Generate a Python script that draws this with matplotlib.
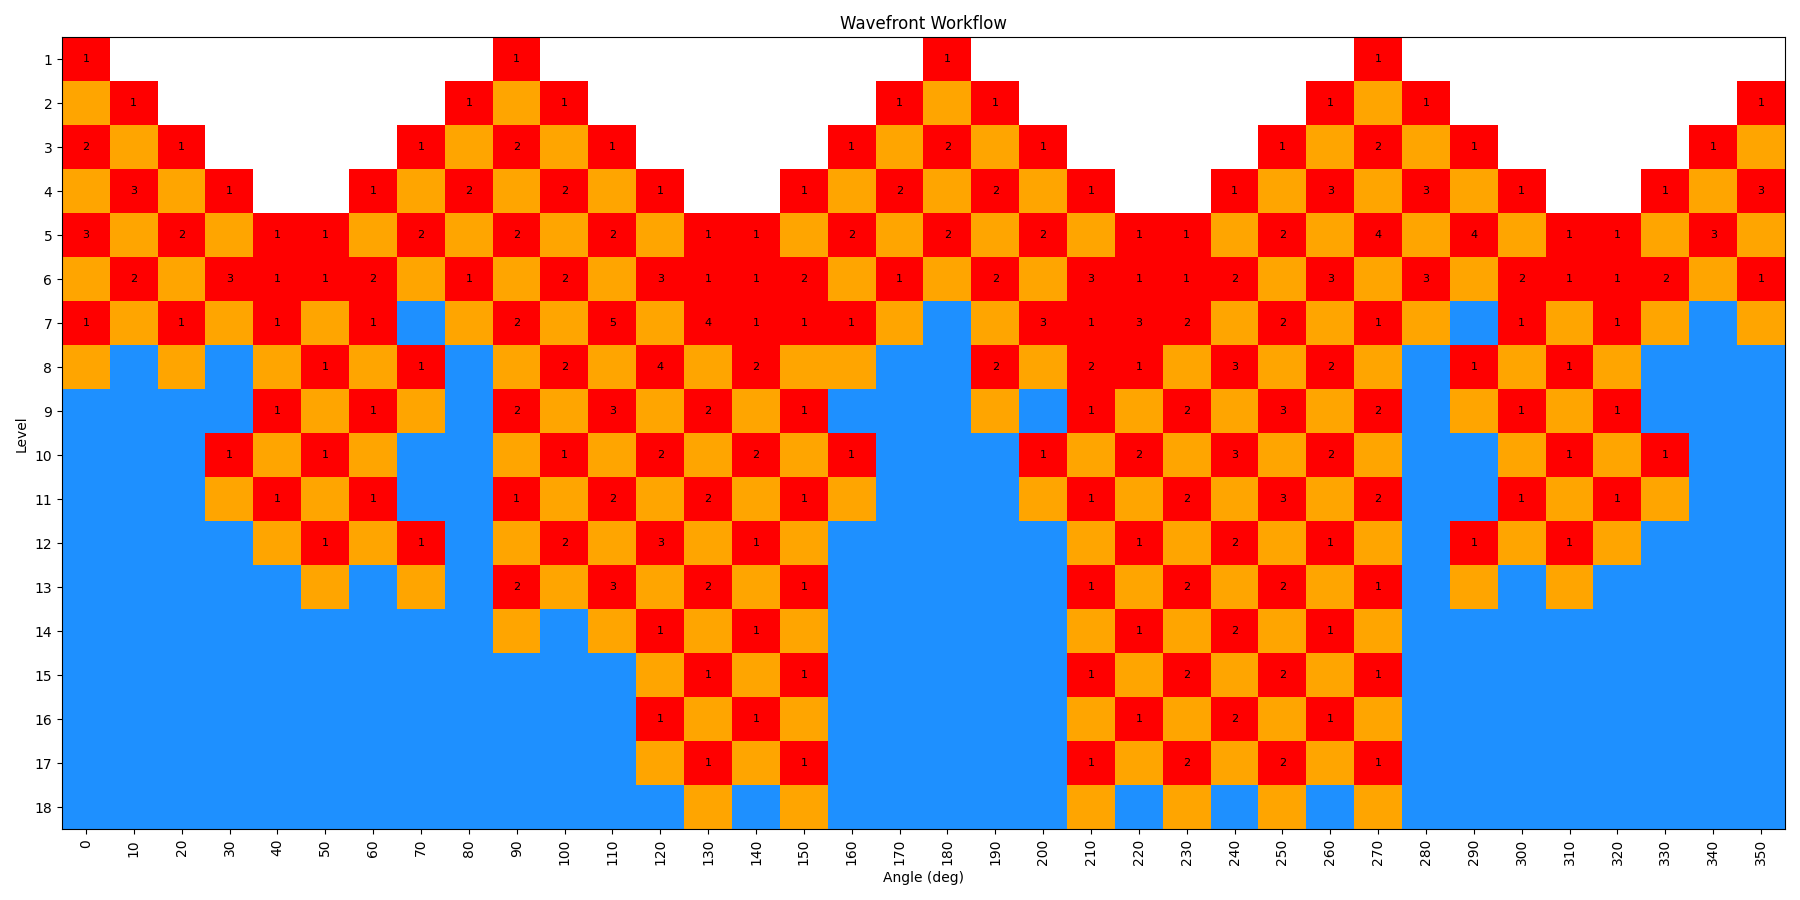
import matplotlib
matplotlib.use("Agg")
import matplotlib.pyplot as plt
import numpy as np
from matplotlib.colors import ListedColormap

ANGLES = list(range(0, 360, 10))
LEVELS = list(range(1, 19))

# one string per level, one char per angle:
# "." not reached, "O" queued, "B" done, digit = active cell with its count
LEVEL_ROWS = [
    "1........1........1........1........",
    "O1......1O1......1O1......1O1......1",
    "2O1....1O2O1....1O2O1....1O2O1....1O",
    "O3O1..1O2O2O1..1O2O2O1..1O3O3O1..1O3",
    "3O2O11O2O2O2O11O2O2O2O11O2O4O4O11O3O",
    "O2O3112O1O2O3112O1O2O3112O3O3O2112O1",
    "1O1O1O1BO2O5O4111OBO3132O2O1OB1O1OBO",
    "OBOBO1O1BO2O4O2OOBB2O21O3O2OB1O1OBBB",
    "BBBB1O1OB2O3O2O1BBBOB1O2O3O2BO1O1BBB",
    "BBB1O1OBBO1O2O2O1BBB1O2O3O2OBBO1O1BB",
    "BBBO1O1BB1O2O2O1OBBBO1O2O3O2BB1O1OBB",
    "BBBBO1O1BO2O3O1OBBBBBO1O2O1OB1O1OBBB",
    "BBBBBOBOB2O3O2O1BBBBB1O2O2O1BOBOBBBB",
    "BBBBBBBBBOBO1O1OBBBBBO1O2O1OBBBBBBBB",
    "BBBBBBBBBBBBO1O1BBBBB1O2O2O1BBBBBBBB",
    "BBBBBBBBBBBB1O1OBBBBBO1O2O1OBBBBBBBB",
    "BBBBBBBBBBBBO1O1BBBBB1O2O2O1BBBBBBBB",
    "BBBBBBBBBBBBBOBOBBBBBOBOBOBOBBBBBBBB",
]

STATE_COLORS = ["white", "#FF0000", "#FFA500", "#1E90FF"]


def parse(rows):
    state = np.zeros((len(rows), len(rows[0])), dtype=int)
    counts = {}
    for i, row in enumerate(rows):
        for j, ch in enumerate(row):
            if ch == ".":
                state[i, j] = 0
            elif ch == "O":
                state[i, j] = 2
            elif ch == "B":
                state[i, j] = 3
            else:
                state[i, j] = 1
                counts[(i, j)] = int(ch)
    return state, counts


state, counts = parse(LEVEL_ROWS)

fig, ax = plt.subplots(figsize=(18, 9), dpi=100)
ax.imshow(state, cmap=ListedColormap(STATE_COLORS), vmin=0, vmax=3,
          aspect="auto", interpolation="nearest")

for (i, j), n in counts.items():
    ax.text(j, i, str(n), ha="center", va="center", fontsize=8, color="black")

ax.set_xticks(range(len(ANGLES)))
ax.set_xticklabels([str(a) for a in ANGLES], rotation=90)
ax.set_yticks(range(len(LEVELS)))
ax.set_yticklabels([str(l) for l in LEVELS])
ax.set_xlabel("Angle (deg)")
ax.set_ylabel("Level")
ax.set_title("Wavefront Workflow")

fig.tight_layout()
fig.savefig("out.png")
